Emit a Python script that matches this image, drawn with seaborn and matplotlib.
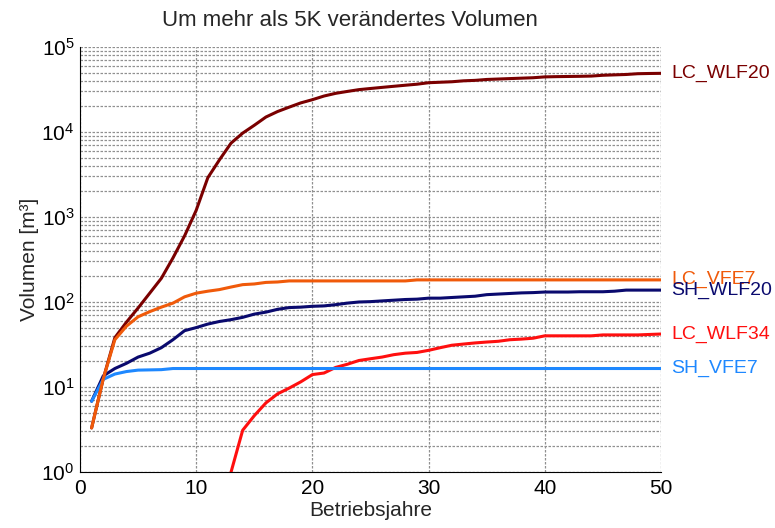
import numpy as np
import pandas as pd
import matplotlib
matplotlib.use("Agg")
import matplotlib.pyplot as plt
import seaborn as sns
from matplotlib.ticker import LogLocator, NullFormatter, MultipleLocator

years = list(range(1, 51))

lc_wlf20 = [3.3, 12.5, 38, 58, 85, 127, 190, 330, 600, 1200,
            2900, 4700, 7400, 9700, 12000, 15000, 17400, 19600, 22000, 24000,
            26500, 28500, 30000, 31500, 32500, 33500, 34500, 35500, 36500, 38000,
            38500, 39000, 40000, 40500, 41500, 42000, 42500, 43000, 43500, 44500,
            44800, 45000, 45200, 45500, 46500, 47000, 47500, 48500, 48800, 49000]

sh_wlf20 = [6.8, 13.5, 16.5, 19, 22.5, 25, 29, 36, 46, 50,
            55, 59, 62, 66, 72, 76, 82, 86, 87, 89,
            90, 93, 97, 100, 101, 103, 105, 107, 108, 111,
            111, 113, 115, 117, 122, 124, 126, 128, 129, 131,
            131, 131, 132, 132, 132, 134, 138, 138, 138, 138]

lc_wlf34 = [np.nan] * 12 + [1.0, 3.1, 4.6, 6.5, 8.3, 9.7, 11.5, 14,
            14.6, 17, 18.5, 20.5, 21.5, 22.5, 24, 25, 25.5, 27,
            29, 31, 32, 33, 33.8, 34.5, 36, 36.6, 37.5, 40,
            40, 40, 40, 40, 41, 41, 41, 41, 41.5, 42]

sh_vfe7 = [6.8, 12.3, 14.2, 15.2, 15.8, 15.9, 16.0, 16.5] + [16.5] * 42

lc_vfe7 = [3.3, 12.5, 36, 52, 67, 77, 87, 97, 115, 127,
           134, 140, 150, 160, 163, 170, 172, 177, 177, 177,
           177, 177, 177, 177, 177, 177, 177, 177, 182, 182,
           182, 182, 182, 182, 182, 182, 182, 182, 182, 182,
           182, 182, 182, 182, 182, 182, 182, 182, 182, 182]

series_names = ["LC_WLF20", "SH_WLF20", "LC_WLF34", "SH_VFE7", "LC_VFE7"]
series_vals = [lc_wlf20, sh_wlf20, lc_wlf34, sh_vfe7, lc_vfe7]
colors = {"LC_WLF20": "#7a0000", "SH_WLF20": "#0a0a6e", "LC_WLF34": "#ff0f0f",
          "SH_VFE7": "#1e88ff", "LC_VFE7": "#f05a0a"}
label_order = ["LC_WLF20", "LC_VFE7", "SH_WLF20", "LC_WLF34", "SH_VFE7"]

title = "Um mehr als 5K verändertes Volumen"
xlabel = "Betriebsjahre"
ylabel = "Volumen [m³]"

df = pd.concat([pd.DataFrame({"Jahr": years, "Volumen": v, "Serie": n})
                for n, v in zip(series_names, series_vals)], ignore_index=True)
df = df.dropna()

sns.set_style("white")
plt.rcParams["font.family"] = ["Liberation Sans", "DejaVu Sans"]
plt.rcParams["mathtext.fontset"] = "custom"
plt.rcParams["mathtext.rm"] = "Liberation Sans"
plt.rcParams["mathtext.it"] = "Liberation Sans"

fig = plt.figure(figsize=(7.75, 5.28), dpi=100)
ax = fig.add_axes([80 / 775, 56 / 528, 581 / 775, 425 / 528])

sns.lineplot(data=df, x="Jahr", y="Volumen", hue="Serie", hue_order=series_names,
             palette=colors, linewidth=2.2, ax=ax, legend=False, estimator=None,
             sort=True)

ax.set_yscale("log")
ax.set_xlim(0, 50)
ax.set_ylim(1, 1e5)
ax.xaxis.set_major_locator(MultipleLocator(10))
ax.yaxis.set_major_locator(LogLocator(base=10, numticks=10))
ax.yaxis.set_minor_locator(LogLocator(base=10, subs=np.arange(2, 10), numticks=20))
ax.yaxis.set_minor_formatter(NullFormatter())

gridkw = dict(color="#909090", linestyle=(0, (2.0, 1.2)), linewidth=0.9)
ax.grid(True, which="major", axis="both", **gridkw)
ax.grid(True, which="minor", axis="y", **gridkw)
ax.set_axisbelow(True)

for s in ["top", "right"]:
    ax.spines[s].set_visible(False)
for s in ["left", "bottom"]:
    ax.spines[s].set_color("black")
    ax.spines[s].set_linewidth(0.8)

ax.tick_params(axis="both", which="both", direction="in", labelsize=15,
               colors="black")
ax.tick_params(axis="x", which="major", length=4, pad=5)
ax.tick_params(axis="y", which="major", length=4, pad=4)
ax.tick_params(axis="y", which="minor", length=2)

ax.set_title(title, fontsize=16, pad=15, x=0.465)
ax.set_xlabel(xlabel, fontsize=15, labelpad=2)
ax.set_ylabel(ylabel, fontsize=15, labelpad=2)

for n in label_order:
    v = series_vals[series_names.index(n)]
    ax.text(50.9, v[-1], n, color=colors[n], fontsize=14, va="center", ha="left",
            clip_on=False)

fig.savefig("out.png", dpi=100)
